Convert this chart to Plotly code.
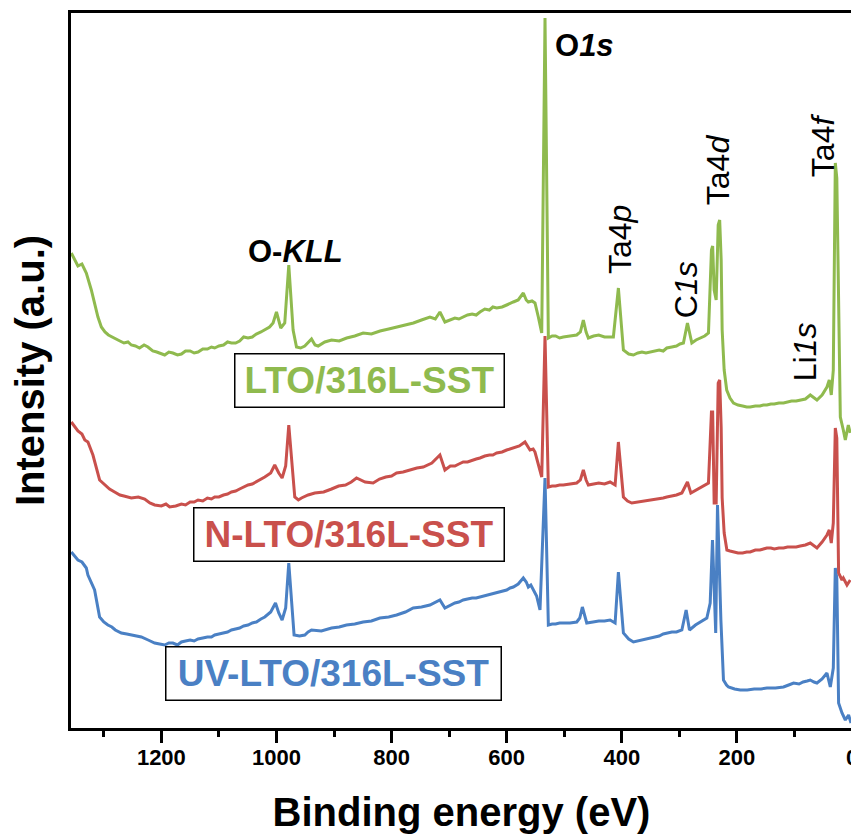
import plotly.graph_objects as go

# ---------------- data (binding energy in eV, intensity in a.u.) ----------------
green_E = [1356.5, 1345.0, 1338.0, 1330.4, 1321.7, 1310.2, 1304.3, 1298.0, 1292.0, 1286.0,
           1281.2, 1272.0, 1265.0, 1258.0, 1252.2, 1245.0, 1238.0, 1230.0, 1223.3, 1215.0,
           1208.0, 1200.0, 1194.2, 1187.0, 1180.0, 1172.0, 1165.2, 1158.0, 1150.0, 1143.0,
           1136.3, 1128.0, 1120.0, 1113.0, 1107.3, 1100.0, 1092.0, 1085.0, 1078.2, 1071.0,
           1064.0, 1057.0, 1049.4, 1042.0, 1035.0, 1027.0, 1020.3, 1012.0, 1005.9, 1000.0,
           992.5, 985.6, 978.6, 971.1, 965.2, 958.0, 950.8, 945.0, 939.1, 933.0,
           927.6, 916.0, 904.3, 891.0, 878.0, 864.0, 849.4, 835.0, 820.0, 805.0,
           791.3, 776.0, 762.0, 748.0, 733.4, 724.0, 716.0, 707.3, 698.0, 690.0,
           683.0, 675.5, 668.0, 660.0, 653.0, 646.4, 638.0, 630.0, 624.0, 617.4,
           608.0, 600.0, 594.0, 588.5, 580.0, 571.1, 566.0, 562.4, 556.0, 550.8,
           545.0, 539.1, 533.4, 527.6, 521.0, 515.0, 508.0, 501.6, 490.0, 478.3,
           472.0, 466.8, 462.0, 458.1, 449.0, 440.0, 430.0, 420.3, 414.6, 405.9,
           397.2, 388.0, 379.8, 372.0, 365.0, 358.0, 350.8, 343.0, 335.0, 328.0,
           321.8, 313.0, 305.0, 299.0, 292.9, 285.9, 278.3, 271.0, 263.8, 256.0,
           249.4, 244.2, 242.1, 239.5, 236.0, 232.5, 229.9, 227.3, 225.6, 222.1,
           217.7, 212.0, 205.9, 198.0, 190.0, 183.0, 176.9, 168.0, 160.0, 154.0,
           147.9, 141.0, 135.0, 127.0, 119.0, 112.0, 105.0, 97.0, 89.9, 81.0,
           72.5, 66.0, 60.9, 52.0, 43.5, 39.5, 36.0, 32.5, 29.0, 26.4,
           23.3, 20.3, 15.1, 11.6, 6.4, 3.0]
green_I = [475, 462, 464, 455, 438, 411, 401, 396, 393, 391,
           390, 387, 385, 386, 383, 382, 380, 383, 381, 377,
           376, 374, 373, 376, 375, 373, 374, 377, 377, 375,
           376, 379, 379, 381, 380, 382, 383, 386, 385, 385,
           387, 391, 390, 391, 394, 396, 398, 401, 405, 416,
           400, 405, 463, 398, 381, 380, 382, 386, 389, 383,
           382, 386, 388, 387, 390, 392, 395, 394, 397, 399,
           401, 403, 405, 408, 411, 409, 416, 406, 408, 410,
           409, 411, 413, 414, 413, 416, 419, 418, 421, 420,
           421, 423, 425, 426, 428, 435, 428, 426, 427, 425,
           411, 395, 710, 390, 392, 392, 390, 391, 392, 393,
           396, 408, 396, 390, 392, 393, 391, 391, 391, 440,
           378, 374, 373, 375, 376, 375, 376, 377, 378, 377,
           380, 381, 382, 384, 385, 405, 385, 388, 390, 392,
           395, 478, 482, 438, 428, 503, 508, 468, 398, 358,
           338, 330, 325, 323, 322, 321, 321, 322, 322, 323,
           323, 324, 324, 325, 325, 326, 327, 327, 328, 329,
           333, 330, 328, 333, 341, 348, 333, 358, 565, 550,
           411, 311, 298, 288, 303, 295]

red_E = [1356.5, 1345.0, 1338.0, 1333.0, 1327.6, 1318.9, 1307.3, 1298.6, 1290.0, 1281.2,
         1272.0, 1265.0, 1258.0, 1252.2, 1240.0, 1229.0, 1220.0, 1211.6, 1200.0, 1192.0,
         1185.6, 1175.0, 1165.2, 1158.0, 1150.0, 1143.0, 1136.3, 1128.0, 1120.0, 1113.0,
         1107.3, 1100.0, 1092.0, 1085.0, 1078.2, 1071.0, 1064.0, 1057.0, 1049.4, 1042.0,
         1035.0, 1027.0, 1020.3, 1010.0, 1003.0, 996.0, 990.2, 984.0, 978.6, 968.2,
         962.0, 956.5, 945.0, 933.4, 918.0, 904.3, 892.0, 880.0, 870.0, 860.9,
         846.0, 832.0, 821.0, 810.0, 800.0, 791.3, 780.0, 768.0, 756.0, 745.0,
         730.0, 716.0, 707.3, 698.0, 690.0, 683.0, 675.5, 668.0, 660.0, 653.0,
         646.4, 638.0, 630.0, 624.0, 617.4, 608.0, 600.0, 594.0, 588.5, 578.0,
         568.2, 563.0, 559.5, 554.0, 550.8, 539.1, 533.4, 527.6, 521.0, 515.0,
         508.0, 501.6, 490.0, 478.3, 472.0, 466.8, 462.0, 458.1, 449.0, 440.0,
         430.0, 420.3, 411.6, 405.9, 397.2, 390.0, 382.6, 372.0, 365.0, 358.0,
         350.8, 343.0, 335.0, 328.0, 321.8, 313.0, 305.0, 295.6, 285.9, 280.0,
         271.0, 263.8, 256.0, 249.4, 244.2, 242.1, 239.5, 236.0, 232.5, 229.9,
         227.3, 225.6, 222.1, 217.4, 212.0, 205.9, 198.0, 190.0, 183.0, 176.9,
         168.0, 160.0, 154.0, 147.9, 141.0, 135.0, 127.0, 119.0, 112.0, 105.0,
         97.0, 89.9, 81.0, 72.5, 66.0, 60.9, 52.0, 43.5, 39.5, 36.0,
         32.5, 29.0, 26.4, 23.3, 17.4, 15.1, 8.7, 3.0]
red_I = [306, 297, 294, 288, 286, 273, 248, 243, 239, 236,
         233, 232, 231, 230, 231, 229, 225, 223, 222, 224,
         221, 222, 224, 223, 226, 226, 228, 227, 230, 229,
         231, 231, 233, 234, 236, 237, 239, 241, 243, 244,
         246, 249, 251, 255, 263, 255, 250, 262, 303, 231,
         228, 230, 233, 235, 236, 239, 242, 243, 246, 250,
         246, 245, 249, 251, 252, 255, 256, 258, 260, 261,
         265, 273, 258, 262, 262, 264, 266, 266, 268, 269,
         270, 272, 273, 273, 275, 276, 278, 279, 280, 282,
         286, 281, 278, 279, 276, 251, 392, 241, 242, 242,
         243, 243, 244, 245, 248, 258, 248, 243, 244, 245,
         244, 246, 243, 286, 231, 227, 225, 226, 226, 227,
         228, 228, 229, 230, 231, 232, 233, 235, 246, 235,
         238, 241, 243, 245, 316, 316, 225, 225, 345, 348,
         300, 230, 195, 178, 177, 176, 175, 175, 176, 176,
         178, 178, 179, 180, 180, 179, 180, 180, 181, 181,
         181, 182, 183, 185, 182, 180, 186, 193, 198, 185,
         205, 300, 290, 155, 148, 150, 143, 148]

blue_E = [1356.5, 1345.0, 1338.0, 1330.4, 1327.6, 1316.0, 1307.3, 1300.0, 1292.9, 1286.0,
          1280.0, 1269.5, 1260.0, 1250.0, 1242.0, 1234.8, 1223.0, 1211.6, 1203.0, 1194.2,
          1187.0, 1180.0, 1172.0, 1165.2, 1158.0, 1150.0, 1143.0, 1136.3, 1128.0, 1120.0,
          1113.0, 1107.3, 1100.0, 1092.0, 1085.0, 1078.2, 1071.0, 1064.0, 1057.0, 1049.4,
          1042.0, 1035.0, 1027.0, 1020.3, 1010.0, 1001.7, 996.0, 990.2, 984.0, 978.6,
          969.4, 960.0, 950.8, 945.0, 939.1, 922.0, 904.3, 891.0, 878.3, 864.0,
          849.4, 835.0, 820.3, 805.0, 791.3, 776.0, 762.4, 748.0, 733.4, 724.0,
          716.0, 707.3, 698.0, 690.0, 683.0, 675.5, 668.0, 660.0, 653.0, 646.4,
          638.0, 630.0, 624.0, 617.4, 608.0, 600.0, 594.0, 588.5, 580.0, 571.1,
          566.0, 562.4, 558.0, 553.7, 548.0, 542.1, 533.4, 527.6, 521.0, 515.0,
          508.0, 501.6, 490.0, 478.3, 473.0, 468.5, 464.0, 460.9, 450.0, 440.0,
          430.0, 420.3, 411.6, 405.9, 397.2, 388.0, 379.8, 372.0, 365.0, 358.0,
          350.8, 343.0, 335.0, 328.0, 321.8, 313.0, 305.0, 295.6, 288.2, 282.4,
          272.0, 263.8, 258.0, 252.2, 246.4, 242.4, 236.8, 233.7, 227.8, 223.3,
          218.0, 214.6, 204.0, 194.2, 182.0, 170.0, 158.0, 147.9, 133.0, 119.0,
          110.0, 101.5, 92.0, 85.0, 78.0, 72.5, 66.0, 60.9, 52.0, 43.5,
          37.7, 32.5, 29.0, 26.4, 23.3, 17.4, 11.6, 5.9, 1.7]
blue_I = [176, 168, 166, 160, 153, 138, 111, 106, 103, 101,
          98, 95, 94, 93, 92, 91, 88, 85, 84, 83,
          85, 85, 83, 86, 87, 88, 87, 89, 90, 91,
          91, 93, 94, 95, 96, 98, 99, 100, 102, 103,
          105, 106, 109, 111, 116, 125, 115, 108, 120, 165,
          93, 92, 93, 96, 98, 97, 100, 101, 103, 104,
          106, 107, 110, 111, 113, 116, 120, 121, 123, 126,
          128, 120, 123, 125, 126, 128, 129, 130, 130, 131,
          132, 133, 134, 135, 137, 138, 140, 141, 144, 150,
          146, 141, 143, 138, 132, 118, 250, 103, 104, 104,
          105, 105, 105, 106, 110, 121, 110, 105, 106, 107,
          107, 108, 105, 156, 95, 89, 86, 87, 88, 89,
          90, 91, 92, 94, 95, 96, 96, 98, 118, 98,
          103, 106, 108, 110, 125, 188, 95, 223, 108, 48,
          43, 41, 39, 38, 38, 39, 39, 40, 40, 41,
          43, 45, 44, 46, 47, 48, 46, 45, 49, 55,
          41, 60, 160, 150, 25, 15, 8, 13, 5]

series_names = ["UV-LTO/316L-SST", "N-LTO/316L-SST", "LTO/316L-SST"]
series_colors = ["#4a80c4", "#c9504c", "#8fba4e"]

x_tickvals = [1200, 1000, 800, 600, 400, 200, 0]
x_ticktext = ["1200", "1000", "800", "600", "400", "200", "0"]

# peak labels: (text, energy, intensity, angle, bold)
peak_labels = [
    ("O-<i>KLL</i>", 966.3, 477, 0, True),
    ("O<i>1s</i>", 465.6, 683, 0, True),
    ("Ta4<i>p</i>", 403.0, 488, -90, False),
    ("C<i>1s</i>", 288.2, 438, -90, False),
    ("Ta4<i>d</i>", 232.5, 558, -90, False),
    ("Li<i>1s</i>", 81.2, 376, -90, False),
    ("Ta4<i>f</i>", 50.1, 583, -90, False),
]

# legend boxes: (name, energy centre, intensity centre, width)
legend_boxes = [
    ("LTO/316L-SST", 837.7, 348, 266),
    ("N-LTO/316L-SST", 873.4, 194, 307),
    ("UV-LTO/316L-SST", 900.3, 55, 332),
]

FONT = "Arial, Liberation Sans, sans-serif"

fig = go.Figure()
for E, I, name, color in zip([blue_E, red_E, green_E], [blue_I, red_I, green_I],
                             series_names, series_colors):
    fig.add_trace(go.Scatter(x=E, y=I, mode="lines", name=name,
                             line=dict(color=color, width=3), showlegend=False))

annotations = []
for text, e, i, ang, bold in peak_labels:
    annotations.append(dict(
        x=e, y=i, xref="x", yref="y", text=text, showarrow=False, textangle=ang,
        xanchor="center", yanchor="middle",
        font=dict(family=FONT, size=31 if bold else 32, color="black",
                  weight="bold" if bold else "normal")))

color_of = dict(zip(series_names, series_colors))
for name, e, i, w in legend_boxes:
    annotations.append(dict(
        x=e, y=i, xref="x", yref="y", text=name, showarrow=False,
        xanchor="center", yanchor="middle", width=w, height=50,
        bordercolor="black", borderwidth=1.5, borderpad=1,
        font=dict(family=FONT, size=37, color=color_of[name], weight="bold")))

# the page body has an 8px margin, so the figure is laid out 8px smaller
fig.update_layout(
    width=851, height=826,
    margin=dict(l=63, r=7, t=5, b=106, pad=0),
    paper_bgcolor="white", plot_bgcolor="white",
    annotations=annotations,
    xaxis=dict(
        range=[1357, 0], tickvals=x_tickvals, ticktext=x_ticktext,
        ticks="outside", ticklen=12, tickwidth=3, tickcolor="black",
        ticklabelstandoff=-4,
        minor=dict(dtick=100, tick0=0, ticks="outside", ticklen=6, tickwidth=3, tickcolor="black"),
        showline=True, linewidth=3, linecolor="black", mirror=True,
        showgrid=False, zeroline=False, automargin=False,
        tickfont=dict(family=FONT, size=22, color="black", weight="bold"),
        title=dict(text="Binding energy (eV)", standoff=32,
                   font=dict(family=FONT, size=40, color="black", weight="bold")),
    ),
    yaxis=dict(
        range=[0, 715], showticklabels=False, ticks="",
        showline=True, linewidth=3, linecolor="black", mirror=True,
        showgrid=False, zeroline=False, automargin=False,
        title=dict(text="Intensity (a.u.)", standoff=13,
                   font=dict(family=FONT, size=40, color="black", weight="bold")),
    ),
)

fig.write_html("out.html")
